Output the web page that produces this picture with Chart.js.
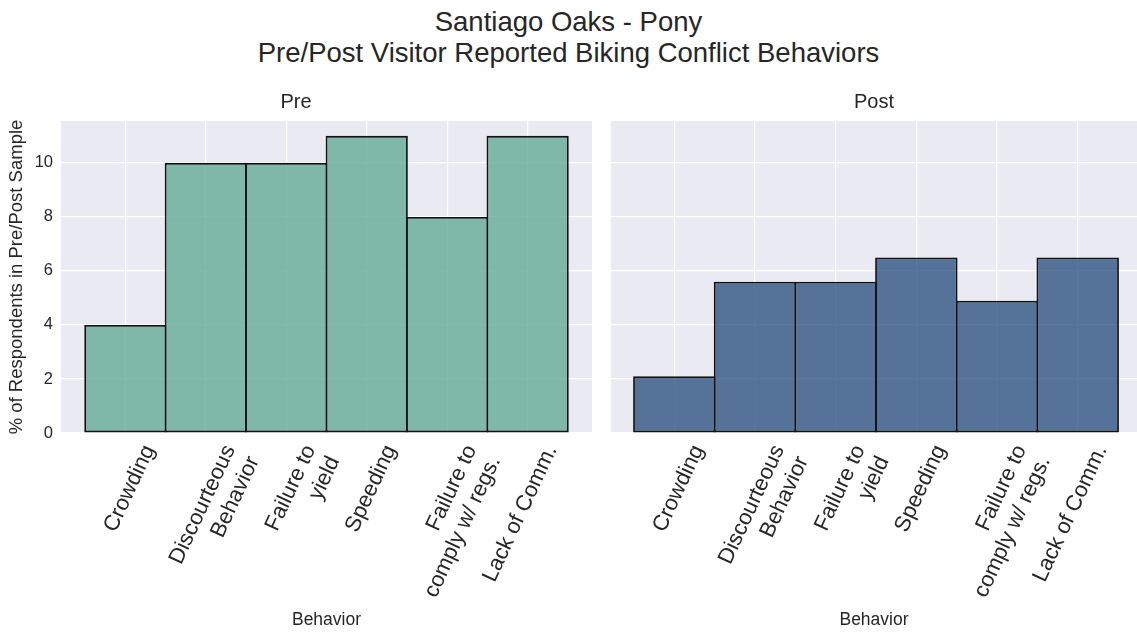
<!DOCTYPE html>
<html>
<head>
<meta charset="utf-8">
<script src="https://cdn.jsdelivr.net/npm/chart.js@4.4.1/dist/chart.umd.min.js"></script>
<style>
body{margin:0;background:#fff;width:1137px;height:633px;overflow:hidden;position:relative;font-family:"Liberation Sans",Arial,sans-serif}
#titolo{position:absolute;left:0;top:6px;width:1137px;text-align:center;font-size:27.5px;line-height:31px;color:#262626}
#boxPre{position:absolute;left:0;top:85px;width:600px;height:548px}
#boxPost{position:absolute;left:600px;top:85px;width:537px;height:548px}
</style>
</head>
<body>
<div id="titolo">Santiago Oaks - Pony<br>Pre/Post Visitor Reported Biking Conflict Behaviors</div>
<div id="boxPre"><canvas id="graPre"></canvas></div>
<div id="boxPost"><canvas id="graPost"></canvas></div>
<script>
var categorie=[["Crowding"],["Discourteous","Behavior"],["Failure to","yield"],["Speeding"],["Failure to","comply w/ regs."],["Lack of Comm."]];
var valoriPre=[4,10,10,11,8,11];
var valoriPost=[2.1,5.6,5.6,6.5,4.9,6.5];
var tickY=[0,2,4,6,8,10];
var tickX=[0,1,2,3,4,5];

var testo="#262626";
var sfondo={
    id:"sfondo",
    beforeDraw:function(chart){
        var a=chart.chartArea;
        var ctx=chart.ctx;
        ctx.save();
        ctx.fillStyle="#EAEAF2";
        ctx.fillRect(a.left,a.top,a.right-a.left,a.bottom-a.top);
        ctx.restore();
    }
};

function punti(valori){
    var out=[];
    for(var i=0;i<valori.length;i++)
        out.push({x:i,y:valori[i]});
    return out;
}

function fissaTick(lista){
    return function(scale){
        scale.ticks=lista.map(function(v){return {value:v};});
    };
}

function creaGrafico(id,titolo,valori,colore,sinistra,xmin,xmax){
    return new Chart(id,{
        type:"bar",
        data:{
            datasets:[{
                data:punti(valori),
                backgroundColor:colore,
                borderColor:"#111",
                borderWidth:1.8,
                borderSkipped:false,
                barPercentage:1.022,
                categoryPercentage:1
            }]
        },
        options:{
            responsive:true,
            maintainAspectRatio:false,
            animation:false,
            layout:{padding:{left:sinistra?0:11,right:sinistra?8:0,top:0,bottom:0}},
            plugins:{
                legend:{display:false},
                tooltip:{enabled:false},
                title:{display:true,text:titolo,color:testo,font:{family:"Liberation Sans",size:20,weight:"normal"},padding:{top:5,bottom:7}}
            },
            scales:{
                x:{
                    type:"linear",
                    min:xmin,max:xmax,
                    bounds:"data",
                    offset:false,
                    afterBuildTicks:fissaTick(tickX),
                    afterFit:function(s){s.height=200;},
                    border:{display:false},
                    grid:{color:"#ffffff",lineWidth:1.2,drawTicks:false,offset:false},
                    ticks:{
                        autoSkip:false,
                        minRotation:65,maxRotation:65,
                        labelOffset:24,
                        padding:8,
                        color:testo,
                        font:{family:"Liberation Sans",size:22},
                        callback:function(v){return categorie[v];}
                    },
                    title:{display:true,text:"Behavior",color:testo,font:{family:"Liberation Sans",size:17.5},padding:{top:4,bottom:2}}
                },
                y:{
                    min:0,max:11.55,
                    bounds:"data",
                    afterBuildTicks:fissaTick(tickY),
                    afterFit:function(s){s.width=sinistra?61:0;},
                    border:{display:false},
                    grid:{color:"#ffffff",lineWidth:1.2,drawTicks:false},
                    ticks:{display:sinistra,padding:8,color:testo,font:{family:"Liberation Sans",size:16.5}},
                    title:{display:sinistra,text:"% of Respondents in Pre/Post Sample",color:testo,font:{family:"Liberation Sans",size:18.5},padding:{top:6,bottom:2}}
                }
            }
        },
        plugins:[sfondo]
    });
}

creaGrafico("graPre","Pre",valoriPre,"rgba(91,165,143,0.75)",true,-0.8,5.8);
creaGrafico("graPost","Post",valoriPost,"rgba(35,74,123,0.75)",false,-0.785,5.735);
</script>
</body>
</html>
